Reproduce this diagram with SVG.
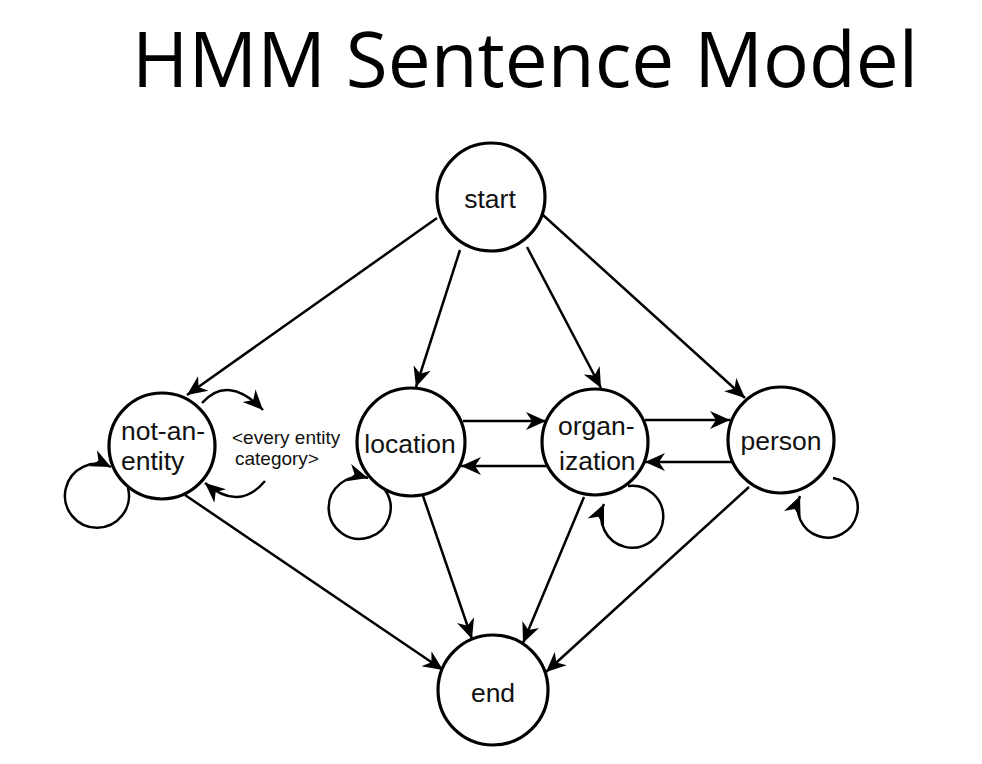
<svg xmlns="http://www.w3.org/2000/svg" width="982" height="764" viewBox="0 0 982 764">
<style>
.node{fill:#fff;stroke:#000;stroke-width:3.2}
.lbl{font-family:"Liberation Sans",Arial,sans-serif;font-size:26.5px;fill:#111}
.small{font-family:"Liberation Sans",Arial,sans-serif;font-size:19px;fill:#111}
.edge{fill:none;stroke:#000;stroke-width:2.5;marker-end:url(#arr)}
.title{font-family:"Open Sans","Noto Sans",sans-serif;font-size:77px;fill:#000}
</style>
<defs>
<marker id="arr" markerUnits="userSpaceOnUse" markerWidth="24" markerHeight="20" refX="20" refY="10" orient="auto">
<path d="M0,1 L20,10 L0,19 L6,10 Z" fill="#000"/>
</marker>
</defs>
<rect width="982" height="764" fill="#fff"/>
<text class="title" x="132" y="87" textLength="786" lengthAdjust="spacingAndGlyphs">HMM Sentence Model</text>
<g id="connectors">
<path class="edge" d="M437,218 L187,395"/>
<path class="edge" d="M460,250 L416,387"/>
<path class="edge" d="M527,247 L601,388"/>
<path class="edge" d="M543,215 L745,398"/>
<path class="edge" d="M463,421 L546,421"/>
<path class="edge" d="M548,466 L461,466"/>
<path class="edge" d="M645,420 L730,420"/>
<path class="edge" d="M732,462 L645,462"/>
<path class="edge" d="M185,495 L443,670"/>
<path class="edge" d="M423,496 L472,639"/>
<path class="edge" d="M584,497 L523,643"/>
<path class="edge" d="M749,487 L546,672"/>
<path class="edge" d="M128,488 A32,32 0 1 1 111,467"/>
<path class="edge" d="M385,490 A31,31 0 1 1 368,478"/>
<path class="edge" d="M628,486 A31,31 0 1 1 604,504"/>
<path class="edge" d="M833,478 A30,30 0 1 1 800,496"/>
<path class="edge" d="M202,403 Q228,374 263,410"/>
<path class="edge" d="M265,481 Q239,512 205,483"/>
</g>
<g id="start"><circle class="node" cx="491" cy="197" r="54"/><text class="lbl" x="490" y="208" text-anchor="middle">start</text></g>
<g id="not-an-entity"><circle class="node" cx="162" cy="446" r="53"/><text class="lbl" x="121" y="440">not-an-</text><text class="lbl" x="121" y="470">entity</text></g>
<g id="location"><circle class="node" cx="411" cy="442" r="54"/><text class="lbl" x="410" y="453" text-anchor="middle">location</text></g>
<g id="organization"><circle class="node" cx="595" cy="442" r="53"/><text class="lbl" x="558" y="435">organ-</text><text class="lbl" x="559" y="470">ization</text></g>
<g id="person"><circle class="node" cx="781" cy="440" r="53"/><text class="lbl" x="781" y="450" text-anchor="middle">person</text></g>
<g id="end"><circle class="node" cx="493" cy="690" r="55"/><text class="lbl" x="493" y="702" text-anchor="middle">end</text></g>
<g id="every-label"><text class="small" x="232" y="444">&lt;every entity</text><text class="small" x="235" y="465">category&gt;</text></g>
</svg>
